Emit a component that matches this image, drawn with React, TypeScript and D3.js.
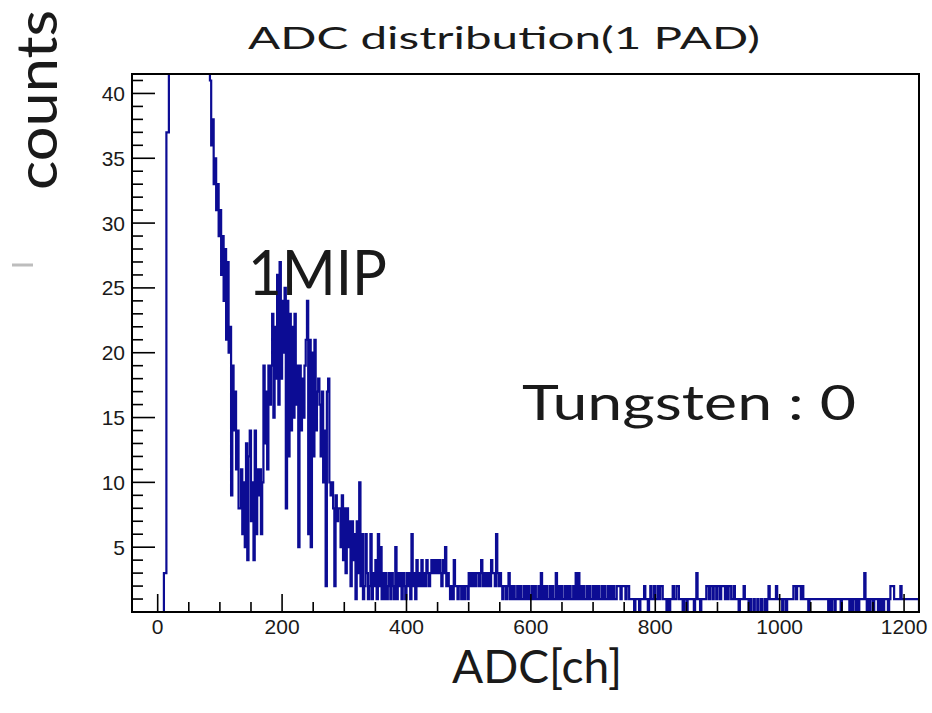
import React from 'react';
import * as d3 from 'd3';

// ---- data (histogram of ADC counts, 2-channel bins starting at ADC 0) ----
const BIN_START = 0;
const BIN_WIDTH = 2;

// ADC 0-84 (pedestal, off scale above ~41)
const pedestalCounts = [
  0, 0, 0, 0, 0, 3, 3, 37, 37, 60,
  90, 130, 170, 210, 250, 280, 300, 320, 330, 335,
  330, 320, 305, 290, 270, 250, 225, 200, 180, 160,
  140, 120, 105, 92, 80, 70, 62, 55, 50, 46,
  44, 42,
];

// ADC 84-350 (falling edge + 1 MIP peak)
const mipCounts = [
  41, 36, 38, 33, 35, 31, 33, 29,
  31, 26, 29, 24, 28, 21, 27, 20,
  22, 9, 19, 14, 17, 11, 14, 8,
  8, 11, 6, 10, 5, 13, 4, 12,
  14, 7, 10, 4, 14, 6, 11, 9,
  11, 6, 10, 19, 13, 17, 11, 19,
  16, 19, 23, 15, 22, 18, 26, 16,
  27, 18, 24, 20, 25, 8, 24, 12,
  23, 14, 22, 15, 23, 16, 19, 5,
  19, 14, 18, 15, 19, 21, 24, 6,
  21, 5, 20, 12, 21, 14, 17, 18,
  16, 12, 17, 10, 14, 2, 17, 18,
  10, 9, 10, 8, 2, 9, 7, 8,
  8, 5, 9, 4, 8, 3, 8, 5,
  7, 2, 7, 4, 6, 1, 7, 3,
  10, 2, 6, 1, 2, 6, 3, 1,
  2, 6, 1, 3, 2,
];

// ADC 350-600
const tailCounts1 = [
  4, 1, 6, 2, 5, 1, 3,
  1, 3, 1, 2, 3, 1, 3, 2, 1, 5,
  1, 3, 2, 3, 1, 3, 2, 1, 3, 2, 3, 1, 6,
  2, 3, 1, 4, 2,
  3, 2, 4, 2, 3, 2, 4, 3, 2, 3,
  4, 3, 4, 3, 4, 3, 4, 3, 2, 4,
  3, 5, 2, 3, 2, 1, 2, 1, 4, 2,
  2, 1, 2, 2, 1, 2, 1, 2, 2, 1,
  3, 2, 3, 2, 3, 2, 3, 3, 2, 3,
  4, 2, 3, 2, 3, 2, 3, 2, 4, 3,
  3, 2, 6, 3, 2, 3, 2, 1, 2, 2,
  1, 2, 3, 1, 2, 1, 2, 1, 1, 2,
  1, 2, 1, 1, 2, 1, 2, 1, 2, 1,
];

// ADC 600-760
const tailCounts2 = [
  1, 2, 1, 2, 1, 1, 2, 1, 3, 1,
  2, 1, 2, 1, 1, 2, 1, 2, 1, 1,
  3, 1, 2, 1, 2, 1, 1, 2, 1, 2,
  1, 2, 1, 1, 2, 1, 3, 1, 3, 1,
  2, 1, 2, 1, 1, 2, 1, 2, 1, 1,
  2, 1, 2, 1, 2, 1, 1, 2, 1, 2,
  1, 1, 2, 1, 2, 1, 2, 1, 1, 2,
  2, 2, 1, 2, 2, 2, 1, 2, 2, 1,
];

// ADC 760-1224
const tailCounts3 = [
  1, 1, 1, 0, 1, 1, 1, 0, 1, 1,
  1, 2, 1, 1, 0, 1, 2, 1, 1, 2,
  1, 1, 2, 1, 2, 2, 1, 1, 1, 0,
  1, 0, 1, 1, 2, 1, 1, 2, 2, 1,
  1, 1, 0, 1, 1, 0, 1, 1, 1, 1,
  1, 0, 1, 3, 1, 1, 0, 1, 1, 1,
  1, 2, 2, 1, 2, 2, 1, 2, 2, 1,
  2, 2, 1, 2, 2, 2, 1, 2, 1, 2,
  2, 1, 1, 2, 1, 1, 1, 0, 1, 1,
  1, 2, 1, 1, 1, 0, 1, 0, 0, 1,
  0, 0, 1, 0, 0, 1, 0, 0, 1, 0,
  1, 2, 1, 1, 1, 1, 1, 2, 1, 1,
  1, 1, 0, 1, 1, 0, 1, 1, 1, 1,
  1, 2, 2, 1, 2, 2, 2, 1, 2, 1,
  1, 1, 1, 0, 1, 1, 1, 1, 1, 1,
  1, 1, 1, 1, 1, 1, 1, 1, 1, 0,
  1, 0, 1, 1, 0, 1, 1, 1, 1, 0,
  1, 1, 1, 1, 1, 1, 0, 1, 0, 1,
  1, 0, 1, 0, 1, 1, 1, 1, 3, 1,
  0, 1, 0, 1, 1, 0, 1, 1, 1, 0,
  1, 0, 1, 0, 1, 1, 1, 0, 1, 2,
  2, 2, 1, 1, 1, 1, 1, 2, 1, 1,
  1, 1, 1, 1, 1, 1, 1, 1, 1, 1, 1, 1,
];

const xDomain = [-41.3, 1224];
const yDomain = [0, 41.5];
const xMajorTicks = [0, 200, 400, 600, 800, 1000, 1200];
const yMajorTicks = [5, 10, 15, 20, 25, 30, 35, 40];
const titleText = 'ADC distribution(1 PAD)';
const xTitleText = 'ADC[ch]';
const yTitleText = 'counts';
const mipLabel = '1MIP';
const tungstenLabel = 'Tungsten : 0';

const W = 932;
const H = 713;
const FL = 132, FR = 919, FT = 74, FB = 612;
const LINE_COLOR = '#0c0c94';
const ROOT_FONT = '"Liberation Sans", Arial, Helvetica, sans-serif';
const SLIDE_FONT = 'Lato, "Open Sans", sans-serif';

export default function App() {
  const x = d3.scaleLinear().domain(xDomain).range([FL, FR]);
  const y = d3.scaleLinear().domain(yDomain).range([FB, FT]);

  const counts = [...pedestalCounts, ...mipCounts, ...tailCounts1, ...tailCounts2, ...tailCounts3];
  const pts: { e: number; c: number }[] = [];
  pts.push({ e: BIN_START, c: 0 });
  counts.forEach((c, i) => pts.push({ e: BIN_START + i * BIN_WIDTH, c }));
  const endEdge = BIN_START + counts.length * BIN_WIDTH;
  pts.push({ e: endEdge, c: counts[counts.length - 1] });
  pts.push({ e: endEdge, c: 0 });

  const line = d3
    .line<{ e: number; c: number }>()
    .x((d) => x(d.e))
    .y((d) => y(d.c))
    .curve(d3.curveStepAfter);

  const yMinor = d3.range(1, Math.floor(yDomain[1]) + 1).filter((v) => v % 5 !== 0);
  const xMinor = d3.range(-50, xDomain[1], 50).filter((v) => v >= xDomain[0] && v % 200 !== 0);

  return (
    <svg width={W} height={H} style={{ position: 'absolute', left: 0, top: 0, background: '#fff' }}>
      <rect x={0} y={0} width={W} height={H} fill="#fff" />
      <defs>
        <clipPath id="frameClip">
          <rect x={FL} y={FT} width={FR - FL} height={FB - FT} />
        </clipPath>
      </defs>

      {/* histogram */}
      <path d={line(pts) || ''} fill="none" stroke={LINE_COLOR} strokeWidth={2.2} clipPath="url(#frameClip)" />

      {/* frame */}
      <rect x={FL} y={FT} width={FR - FL} height={FB - FT} fill="none" stroke="#000" strokeWidth={2} />

      {/* y ticks */}
      {yMajorTicks.map((v) => (
        <g key={'ym' + v}>
          <line x1={FL} x2={FL + 23} y1={y(v)} y2={y(v)} stroke="#000" strokeWidth={1.6} />
          <text x={FL - 7} y={y(v)} dy="0.36em" textAnchor="end" fontFamily={ROOT_FONT} fontSize={21} fill="#1a1a1a">
            {v}
          </text>
        </g>
      ))}
      {yMinor.map((v) => (
        <line key={'yn' + v} x1={FL} x2={FL + 11} y1={y(v)} y2={y(v)} stroke="#000" strokeWidth={1.6} />
      ))}

      {/* x ticks */}
      {xMajorTicks.map((v) => (
        <g key={'xm' + v}>
          <line x1={x(v)} x2={x(v)} y1={FB} y2={FB - 18} stroke="#000" strokeWidth={1.6} />
          <text x={x(v)} y={FB + 22} textAnchor="middle" fontFamily={ROOT_FONT} fontSize={21} fill="#1a1a1a">
            {v}
          </text>
        </g>
      ))}
      {xMinor.map((v) => (
        <line key={'xn' + v} x1={x(v)} x2={x(v)} y1={FB} y2={FB - 10} stroke="#000" strokeWidth={1.6} />
      ))}

      {/* slide texts */}
      <text x={248} y={49} fontFamily={SLIDE_FONT} fontSize={31} fill="#1a1a1a" textLength={512} lengthAdjust="spacingAndGlyphs">
        {titleText}
      </text>
      <text x={452} y={683} fontFamily={SLIDE_FONT} fontSize={46} fill="#1a1a1a" textLength={170} lengthAdjust="spacingAndGlyphs">
        {xTitleText}
      </text>
      <text
        transform="translate(57,190) rotate(-90)"
        x={0}
        y={0}
        fontFamily={SLIDE_FONT}
        fontSize={56}
        fill="#1a1a1a"
        textLength={180}
        lengthAdjust="spacingAndGlyphs"
      >
        {yTitleText}
      </text>
      <line x1={12} x2={33} y1={265} y2={265} stroke="#bdbdbd" strokeWidth={3} />
      <text x={248} y={295} fontFamily={SLIDE_FONT} fontSize={62} fill="#1a1a1a" textLength={139} lengthAdjust="spacingAndGlyphs">
        {mipLabel}
      </text>
      <text x={522} y={420} fontFamily={SLIDE_FONT} fontSize={48} fill="#1a1a1a" textLength={334} lengthAdjust="spacingAndGlyphs">
        {tungstenLabel}
      </text>
    </svg>
  );
}
